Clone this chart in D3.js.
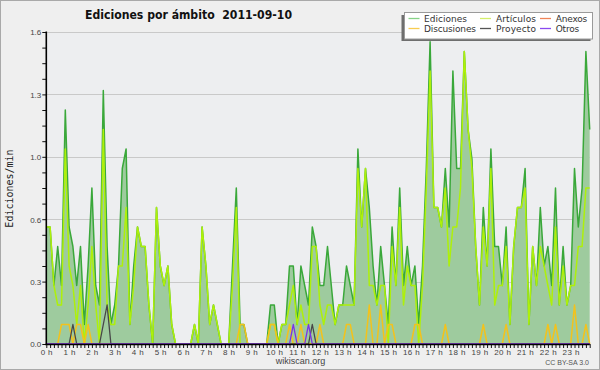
<!DOCTYPE html>
<html><head><meta charset="utf-8">
<script src="https://cdn.jsdelivr.net/npm/d3@7/dist/d3.min.js"></script>
<style>body{margin:0;background:#fff}svg{display:block}</style>
</head><body>
<svg id="c" width="600" height="370"></svg>
<script>
const titleText = "Ediciones por ámbito  2011-09-10";
const yTitle = "Ediciones/min";
const hourLabels = ["0 h","1 h","2 h","3 h","4 h","5 h","6 h","7 h","8 h","9 h","10 h","11 h","12 h","13 h","14 h","15 h","16 h","17 h","18 h","19 h","20 h","21 h","22 h","23 h"];
const yTickValues = [0, 0.32, 0.64, 0.96, 1.28, 1.6];
const seriesNames = ["Ediciones","Artículos","Anexos","Discusiones","Proyecto","Otros"];

const ediciones = [
 0.6,0.6,0.3,0.5,0.3,1.2,0.6,0.5,0.3,0.5,0.1,0.4,
 0.8,0.3,0.2,1.3,0.5,0.1,0.2,0.4,0.9,1.0,0.1,0.4,
 0.6,0.5,0.5,0.2,0,0.7,0.4,0.3,0.4,0.1,0,0,
 0,0,0,0.1,0,0.6,0.4,0.1,0.2,0.1,0,0,
 0,0.4,0.8,0.1,0.1,0,0,0,0,0,0,0.2,
 0.2,0,0.1,0.1,0.4,0.4,0.1,0.4,0.3,0.2,0.6,0.5,
 0.3,0.3,0.5,0.3,0.1,0.2,0.2,0.4,0.3,0.2,1.0,0.6,
 0.9,0.7,0.4,0.2,0.5,0.3,0.1,0.6,0.3,0.8,0.3,0.5,
 0.3,0.4,0.1,0.4,0.9,1.55,0.7,0.7,0.6,0.9,0.6,1.4,
 0.9,0.9,1.5,1.1,0.95,0.5,0.2,0.7,0.4,1.0,0.5,0.5,
 0.3,0.6,0.1,0.5,0.7,0.7,0.9,0.1,0.5,0.3,0.7,0.4,
 0.5,0.3,0.8,0.2,0.5,0.2,0.3,0.9,0.6,0.8,1.5,1.1];
const articulos = [
 0.6,0.6,0.3,0.2,0.2,1.0,0.4,0.3,0.1,0.3,0,0.2,
 0.5,0.2,0,1.1,0.2,0.1,0.1,0.4,0.4,0.7,0.1,0.3,
 0.6,0.5,0.5,0.2,0,0.7,0.4,0.3,0.4,0.1,0,0,
 0,0,0,0.1,0,0.6,0.4,0.1,0.2,0.1,0,0,
 0,0.3,0.7,0,0,0,0,0,0,0,0,0.1,
 0.1,0,0.1,0.1,0.2,0.3,0.1,0.2,0.1,0.1,0.5,0.5,
 0.2,0.1,0.2,0.2,0.1,0.2,0.2,0.2,0.2,0.2,0.9,0.6,
 0.9,0.3,0.3,0.2,0.3,0.3,0,0.5,0.3,0.7,0.2,0.4,
 0.3,0.3,0,0.3,0.8,1.4,0.7,0.7,0.6,0.8,0.4,0.6,
 0.6,0.8,1.5,1.1,0.9,0.5,0.2,0.6,0.4,0.9,0.2,0.3,
 0.3,0.5,0.1,0.5,0.7,0.7,0.8,0.1,0.5,0.3,0.5,0.4,
 0.3,0.2,0.6,0.2,0.4,0.2,0.3,0.3,0.5,0.5,0.8,0.8];
const anexos = [
 0,0,0,0,0,0,0,0,0,0,0,0, 0,0,0,0,0,0,0,0,0,0,0,0,
 0,0,0,0,0,0,0,0,0,0,0,0, 0,0,0,0,0,0,0,0,0,0,0,0,
 0,0,0,0,0,0,0,0,0,0,0,0, 0,0,0,0,0,0,0,0,0,0,0,0,
 0,0,0,0,0,0,0,0,0,0,0,0, 0,0,0,0,0,0,0,0,0,0,0,0,
 0,0,0,0,0,0,0,0,0,0,0,0, 0,0,0,0,0,0,0,0,0,0,0,0,
 0,0,0,0,0,0,0,0,0,0,0,0, 0,0,0,0,0,0,0,0,0,0,0,0];
const discusiones = [
 0,0,0,0,0.1,0.1,0.1,0,0.1,0.1,0,0.1,
 0,0,0,0,0,0,0,0,0,0,0,0,
 0,0,0,0,0,0,0,0,0,0,0,0,
 0,0,0,0,0,0,0,0,0,0,0,0,
 0,0,0,0.1,0.1,0,0,0,0,0,0,0.1,
 0.1,0,0,0,0.1,0,0,0.1,0,0,0,0,
 0.1,0,0,0,0,0,0,0.1,0.1,0,0,0,
 0,0.2,0,0,0.2,0,0.1,0.1,0,0,0,0,
 0,0.1,0.1,0,0,0,0,0,0,0.1,0,0,
 0,0,0,0,0,0,0,0.1,0,0,0,0,
 0,0.1,0,0,0,0,0,0,0,0,0,0,
 0.1,0,0.1,0,0,0,0,0.2,0,0,0.1,0];
const proyecto = [
 0,0,0,0,0,0,0,0.1,0,0,0,0,
 0,0,0,0.1,0.2,0,0,0,0,0,0,0,
 0,0,0,0,0,0,0,0,0,0,0,0, 0,0,0,0,0,0,0,0,0,0,0,0,
 0,0,0,0,0,0,0,0,0,0,0,0,
 0,0,0,0,0,0,0,0,0,0,0.1,0,
 0,0,0,0,0,0,0,0,0,0,0,0, 0,0,0,0,0,0,0,0,0,0,0,0,
 0,0,0,0,0,0,0,0,0,0,0,0, 0,0,0,0,0,0,0,0,0,0,0,0,
 0,0,0,0,0,0,0,0,0,0,0,0, 0,0,0,0,0,0,0,0,0,0,0,0];
const otros = [
 0,0,0,0,0,0,0,0,0,0,0,0, 0,0,0,0,0,0,0,0,0,0,0,0,
 0,0,0,0,0,0,0,0,0,0,0,0, 0,0,0,0,0,0,0,0,0,0,0,0,
 0,0,0,0,0,0,0,0,0,0,0,0,
 0,0,0,0,0,0.1,0,0,0,0.1,0,0,
 0,0,0,0,0,0,0,0,0,0,0,0, 0,0,0,0,0,0,0,0,0,0,0,0,
 0,0,0,0,0,0,0,0,0,0,0,0, 0,0,0,0,0,0,0,0,0,0,0,0,
 0,0,0,0,0,0,0,0,0,0,0,0, 0,0,0,0,0,0,0,0,0,0,0,0];

const svg = d3.select("#c");
const W = 600, H = 370;
const L = 46.3, R = 589.7, T = 32, B = 344;
const n = ediciones.length;
const x = d3.scaleLinear().domain([0, n - 1]).range([L, R]);
const y = d3.scaleLinear().domain([0, 1.6]).range([B, T]);

// backgrounds
svg.append("rect").attr("x",0.5).attr("y",0.5).attr("width",W-1).attr("height",H-1)
  .attr("fill","#efefef").attr("stroke","#a9a9a9");
svg.append("rect").attr("x",L).attr("y",T).attr("width",R-L).attr("height",B-T).attr("fill","#edeef0");

// grid
svg.append("g").selectAll("line").data(yTickValues.slice(1)).join("line")
  .attr("x1",L).attr("x2",R).attr("y1",d=>Math.round(y(d))+0.5).attr("y2",d=>Math.round(y(d))+0.5)
  .attr("stroke","#c9c9c9").attr("stroke-width",1);

// area + lines
const area = d3.area().x((d,i)=>x(i)).y0(y(0)).y1(d=>y(d));
svg.append("path").datum(ediciones).attr("d",area).attr("fill","#9ecb9e");
const line = d3.line().x((d,i)=>x(i)).y(d=>y(d));
const lineSeries = [
  {v: ediciones, c: "#3aa83a", w: 1.5},
  {v: articulos, c: "#aef00a", w: 1.5},
  {v: anexos, c: "#f07a3c", w: 1.5},
  {v: discusiones, c: "#f3c21c", w: 1.5},
  {v: proyecto, c: "#474747", w: 1.3},
  {v: otros, c: "#7b2fe8", w: 1.3}
];
svg.append("g").selectAll("path").data(lineSeries).join("path")
  .attr("d",d=>line(d.v)).attr("fill","none").attr("stroke",d=>d.c).attr("stroke-width",d=>d.w)
  .attr("stroke-linejoin","round");

// Y axis
const yMinor = d3.range(0, 1.6001, 0.08);
const yAxis = d3.axisLeft(y).tickValues(yMinor).tickSize(4)
  .tickFormat(d => yTickValues.some(t => Math.abs(t - d) < 1e-6) ? d3.format(".1f")(d) : "");
const gy = svg.append("g").attr("transform",`translate(${L},0)`).call(yAxis);
gy.select(".domain").remove();
gy.selectAll(".tick line").attr("stroke","#111");
gy.selectAll(".tick text").attr("x",-5).attr("dy","0.35em")
  .style("font-family","'Liberation Sans', Arial, sans-serif").style("font-size","8px").attr("fill","#444");
svg.append("line").attr("x1",L).attr("x2",L).attr("y1",T-0.5).attr("y2",B+1)
  .attr("stroke","#000").attr("stroke-width",1.6);

// X axis
const xAxis = d3.axisBottom(x).tickValues(d3.range(0, n)).tickSize(4).tickFormat(i => i % 6 === 0 ? hourLabels[i/6] : "");
const gx = svg.append("g").attr("transform",`translate(0,${B})`).call(xAxis);
gx.select(".domain").remove();
gx.selectAll(".tick line").attr("stroke","#111");
gx.selectAll(".tick text").attr("y",5).attr("dy","0.71em")
  .style("font-family","'Liberation Sans', Arial, sans-serif").style("font-size","8px")
  .style("letter-spacing","0.4px").attr("fill","#444");
svg.append("line").attr("x1",L-1).attr("x2",R).attr("y1",B+0.5).attr("y2",B+0.5)
  .attr("stroke","#000").attr("stroke-width",1.6);

// titles
svg.append("text").attr("x",85).attr("y",18.5).text(titleText)
  .attr("textLength",207).attr("lengthAdjust","spacingAndGlyphs")
  .style("white-space","pre").style("font-family","'DejaVu Sans', sans-serif")
  .style("font-weight","bold").style("font-size","12px").attr("fill","#111");
svg.append("text").attr("transform","translate(13,188.5) rotate(-90)").attr("text-anchor","middle")
  .text(yTitle).style("font-family","'DejaVu Sans Mono', monospace").style("font-size","10px").attr("fill","#222");
svg.append("text").attr("x",300.5).attr("y",364).attr("text-anchor","middle").text("wikiscan.org")
  .style("font-family","'Liberation Sans', Arial, sans-serif").style("font-size","9px").attr("fill","#444");
svg.append("text").attr("x",589).attr("y",365).attr("text-anchor","end").text("CC BY-SA 3.0")
  .style("font-family","'Liberation Sans', Arial, sans-serif").style("font-size","7px").attr("fill","#555");

// legend
const lg = svg.append("g");
lg.append("rect").attr("x",401.5).attr("y",15).attr("width",189).attr("height",26).attr("fill","#6e6e6e");
lg.append("rect").attr("x",404.5).attr("y",12.5).attr("width",188).attr("height",26.5)
  .attr("fill","#fff").attr("stroke","#9a9a9a");
const legendColors = ["#86d286","#d4ee6a","#f08458","#f8cc50","#555555","#8a4af0"];
const legendLen = [43, 40, 31.6, 52, 40, 23.6];
const colX = [408.5, 480, 540];
const textX = [424, 496, 555.7];
const rowY = [18.5, 28.5];
const order = [[0,0,0],[1,0,1],[2,0,2],[3,1,0],[4,1,1],[5,1,2]];
order.forEach(([k,r,c]) => {
  lg.append("line").attr("x1",colX[c]).attr("x2",colX[c]+11).attr("y1",rowY[r]).attr("y2",rowY[r])
    .attr("stroke",legendColors[k]).attr("stroke-width",1.3);
  lg.append("text").attr("x",textX[c]).attr("y",rowY[r]+3.8).text(seriesNames[k])
    .attr("textLength",legendLen[k]).attr("lengthAdjust","spacing")
    .style("font-family","'DejaVu Sans', sans-serif").style("font-size","9px").attr("fill","#333");
});
</script>
</body></html>
